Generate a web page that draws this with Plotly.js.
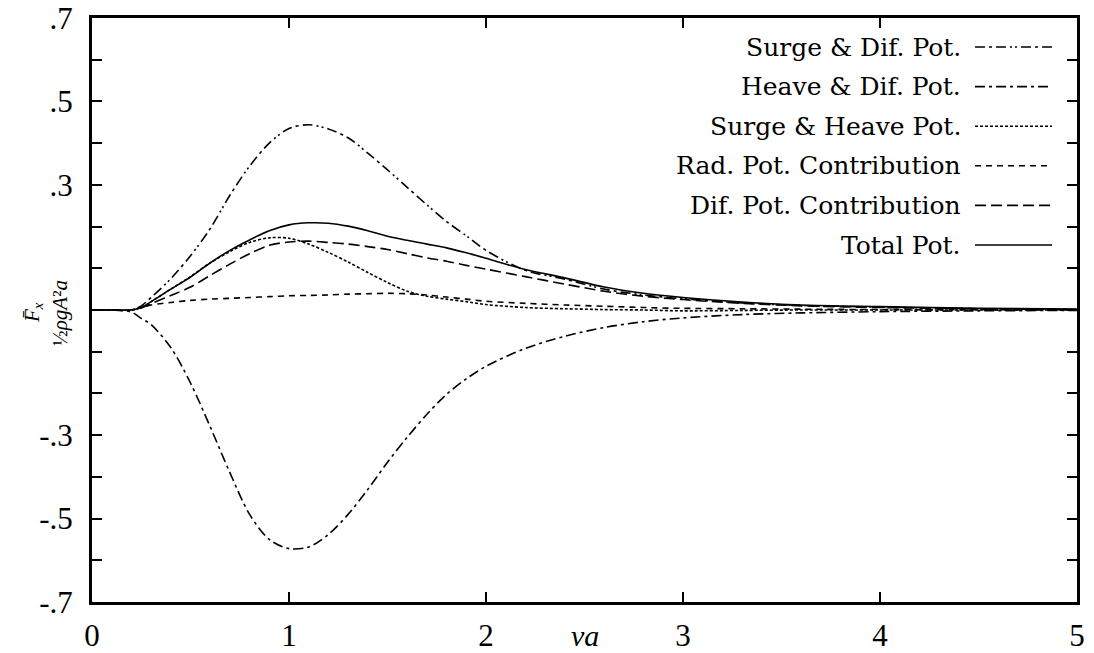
<!DOCTYPE html>
<html><head><meta charset="utf-8">
<script src="https://cdn.plot.ly/plotly-3.0.1.min.js"></script>
<style>html,body{margin:0;padding:0;background:#fff}#chart{width:1094px;height:653px}</style>
</head><body><div id="chart"></div>
<script>
const xa = [0, 0.1, 0.2, 0.25, 0.3, 0.4, 0.5, 0.6, 0.7, 0.8, 0.9, 1.0, 1.1, 1.2, 1.3, 1.4, 1.5, 1.6, 1.7, 1.8, 1.9, 2.0, 2.2, 2.4, 2.6, 2.8, 3.0, 3.3, 3.6, 4.0, 4.5, 5.0];
const surgeDif = [0, 0, 0, 0.01, 0.03, 0.075, 0.13, 0.195, 0.275, 0.345, 0.40, 0.435, 0.444, 0.434, 0.413, 0.376, 0.336, 0.294, 0.252, 0.212, 0.178, 0.143, 0.095, 0.074, 0.05, 0.036, 0.027, 0.017, 0.011, 0.007, 0.003, 0.001];
const heaveDif = [0, 0, -0.005, -0.02, -0.035, -0.09, -0.175, -0.28, -0.39, -0.49, -0.55, -0.572, -0.568, -0.538, -0.49, -0.43, -0.365, -0.305, -0.25, -0.202, -0.165, -0.135, -0.092, -0.063, -0.042, -0.028, -0.019, -0.011, -0.007, -0.004, -0.002, -0.001];
const surgeHeave = [0, 0, 0, 0.006, 0.02, 0.05, 0.08, 0.113, 0.14, 0.162, 0.173, 0.172, 0.158, 0.138, 0.115, 0.09, 0.066, 0.045, 0.033, 0.026, 0.02, 0.013, 0.006, 0.003, 0.001, 0, -0.002, -0.001, 0, 0, 0, 0];
const radPot = [0, 0, 0, 0.006, 0.012, 0.018, 0.023, 0.026, 0.028, 0.03, 0.032, 0.034, 0.035, 0.036, 0.038, 0.039, 0.04, 0.039, 0.036, 0.031, 0.026, 0.021, 0.016, 0.012, 0.009, 0.006, 0.004, 0.003, 0.002, 0.001, 0.0005, 0];
const difPot = [0, 0, 0, 0.005, 0.015, 0.035, 0.055, 0.083, 0.11, 0.135, 0.155, 0.163, 0.165, 0.162, 0.158, 0.152, 0.145, 0.135, 0.125, 0.117, 0.107, 0.098, 0.08, 0.062, 0.045, 0.033, 0.025, 0.016, 0.01, 0.006, 0.003, 0.001];
const totalPot = [0, 0, 0, 0.006, 0.02, 0.05, 0.079, 0.113, 0.143, 0.168, 0.19, 0.204, 0.209, 0.208, 0.201, 0.19, 0.177, 0.167, 0.158, 0.149, 0.137, 0.124, 0.097, 0.077, 0.055, 0.04, 0.03, 0.019, 0.012, 0.008, 0.004, 0.002];

const names = ['Surge &amp; Dif. Pot.', 'Heave &amp; Dif. Pot.', 'Surge &amp; Heave Pot.', 'Rad. Pot. Contribution', 'Dif. Pot. Contribution', 'Total Pot.'];
const series = [surgeDif, heaveDif, surgeHeave, radPot, difPot, totalPot];
const dashes = ['10px,4px,3px,4px,10px,4px,2px,3px,2px,4px', '10px,4px,3px,4px', '3px,2px', '6px,5px', '11px,5px', 'solid'];

const traces = series.map((s, i) => ({
  x: xa, y: s, type: 'scatter', mode: 'lines', name: names[i],
  line: {color: '#000', width: 1.6, dash: dashes[i], shape: 'spline', smoothing: 0.9},
  showlegend: false, hoverinfo: 'skip'
}));

const yTickVals = [-0.7, -0.5, -0.3, 0.3, 0.5, 0.7];
const yTickText = ['-.7', '-.5', '-.3', '.3', '.5', '.7'];

const font = 'Liberation Serif, DejaVu Serif, serif';
const lfont = 'DejaVu Serif, serif';
const annotations = [];
const shapes = [];
const rowTop = 47, rowStep = 39.6, H = 653, T = 18, B = 51, L = 92, R = 17;
const plotH = H - T - B, plotW = 1094 - L - R;
names.forEach((n, i) => {
  const py = rowTop + i * rowStep;
  const yp = 1 - (py - T) / plotH;
  annotations.push({xref: 'paper', yref: 'paper', x: (963 - L) / plotW, y: yp, xanchor: 'right', yanchor: 'middle',
    text: n, showarrow: false, font: {family: lfont, size: 25, color: '#000'}});
  shapes.push({type: 'line', xref: 'paper', yref: 'paper', x0: (975 - L) / plotW, x1: (1052 - L) / plotW, y0: yp, y1: yp,
    line: {color: '#000', width: 1.6, dash: dashes[i]}});
});
annotations.push({xref: 'x', yref: 'paper', x: 2.5, y: -(636 - (H - B)) / plotH, xanchor: 'center', yanchor: 'middle', text: '<i>νa</i>', showarrow: false,
  font: {family: font, size: 30, color: '#000'}});
annotations.push({xref: 'paper', yref: 'paper', x: -(L - 33) / plotW, y: 1 - (313 - T) / plotH, xanchor: 'center', yanchor: 'middle', textangle: -90,
  text: '<i>F̄</i><sub><i>x</i></sub>', showarrow: false, font: {family: font, size: 21, color: '#000'}});
annotations.push({xref: 'paper', yref: 'paper', x: -(L - 60) / plotW, y: 1 - (313 - T) / plotH, xanchor: 'center', yanchor: 'middle', textangle: -90,
  text: '½<i>ρgA</i>²<i>a</i>', showarrow: false, font: {family: font, size: 21, color: '#000'}});

const layout = {
  width: 1094, height: 653,
  margin: {l: L, r: R, t: T, b: B},
  paper_bgcolor: '#fff', plot_bgcolor: '#fff',
  font: {family: font, color: '#000'},
  xaxis: {range: [0, 5], tickvals: [0, 1, 2, 3, 4, 5], ticktext: ['0', '1', '2', '3', '4', '5'],
    ticks: 'inside', ticklen: 10, tickwidth: 2, tickcolor: '#000', ticklabelstandoff: 4,
    showline: true, linewidth: 3, linecolor: '#000', mirror: 'ticks', showgrid: false, zeroline: false,
    tickfont: {family: font, size: 31, color: '#000'}},
  yaxis: {range: [-0.7, 0.7], tickvals: yTickVals, ticktext: yTickText,
    ticks: 'inside', ticklen: 10, tickwidth: 2, tickcolor: '#000', ticklabelstandoff: 10,
    minor: {tickmode: 'linear', tick0: 0, dtick: 0.1, ticks: 'inside', ticklen: 10, tickwidth: 2, tickcolor: '#000', showgrid: false},
    showline: true, linewidth: 3, linecolor: '#000', mirror: 'ticks', showgrid: false, zeroline: false,
    tickfont: {family: font, size: 31, color: '#000'}},
  annotations: annotations, shapes: shapes
};
Plotly.newPlot('chart', traces, layout, {displayModeBar: false, staticPlot: true});
</script></body></html>
